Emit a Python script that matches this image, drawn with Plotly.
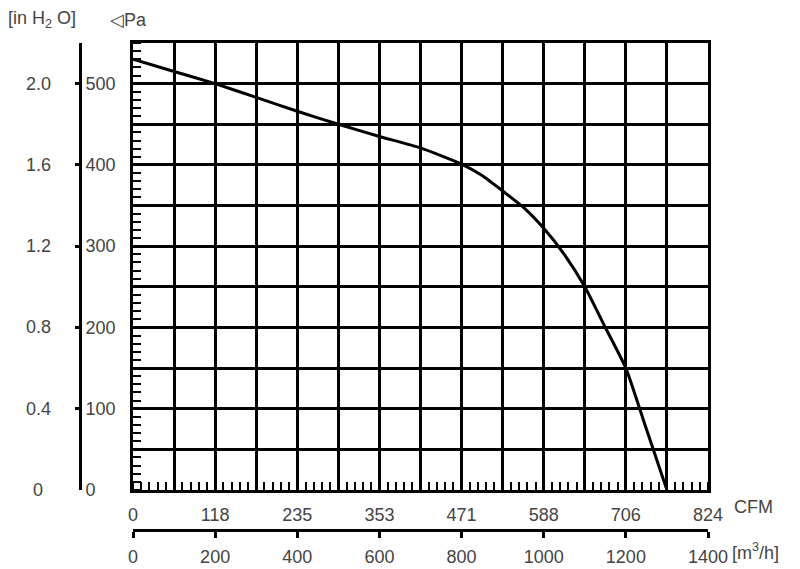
import plotly.graph_objects as go

# fan curve (air flow in m3/h, static pressure in Pa)
flow_m3h = [0, 100, 200, 300, 400, 500, 600, 700, 800, 850, 900, 950,
            1000, 1050, 1100, 1150, 1200, 1250, 1300]
pressure_pa = [530, 515, 500, 483, 466, 450, 435, 421, 401, 387, 368, 348,
               322, 290, 250, 200, 150, 75, 0]

# axis labels
m3h_ticks = [0, 200, 400, 600, 800, 1000, 1200, 1400]
cfm_labels = ["0", "118", "235", "353", "471", "588", "706", "824"]
pa_ticks = [0, 100, 200, 300, 400, 500]
inh2o_labels = ["0", "0.4", "0.8", "1.2", "1.6", "2.0"]

# the page body has an 8px margin, so the figure is drawn 8px smaller
# and every pixel position below is taken relative to it
OFF = 8
W, H = 800 - OFF, 569 - OFF
FONT = dict(family="Liberation Sans", size=18, color="#444")

grid_x = list(range(0, 1401, 100))
grid_x_text = [cfm_labels[m3h_ticks.index(v)] if v in m3h_ticks else "" for v in grid_x]

fig = go.Figure()
fig.add_trace(go.Scatter(x=flow_m3h, y=pressure_pa, mode="lines",
                         line=dict(color="black", width=3, shape="spline", smoothing=0.5),
                         showlegend=False, hoverinfo="skip"))
# dummy trace so the secondary axes get drawn
fig.add_trace(go.Scatter(x=[0, 1400], y=[0, 0], xaxis="x2", yaxis="y2", mode="lines",
                         line=dict(width=0), showlegend=False, hoverinfo="skip"))

# plot area (page pixels): x 133..708, y 43..490; second x axis at y 530
top = 43 - OFF
bottom = 530 - OFF
plot_b = H - bottom
plot_h = bottom - top
ydom0 = 40 / plot_h


def px_x(x):
    return (x - OFF) / W


def px_y(y):
    return (bottom - (y - OFF)) / plot_h


fig.update_layout(
    width=W, height=H,
    margin=dict(l=0, r=0, t=top, b=plot_b, autoexpand=False),
    plot_bgcolor="white", paper_bgcolor="white",
    font=FONT,
    xaxis=dict(domain=[px_x(133), px_x(708)], range=[0, 1400], anchor="y",
               tickvals=grid_x, ticktext=grid_x_text, ticks="",
               ticklabelstandoff=6, automargin=False,
               showgrid=True, gridcolor="black", gridwidth=3,
               showline=True, linecolor="black", linewidth=3, mirror=True,
               zeroline=False,
               minor=dict(ticks="inside", dtick=20, ticklen=8, tickwidth=2,
                          tickcolor="black", showgrid=False)),
    yaxis=dict(domain=[ydom0, 1], range=[0, 550], anchor="x",
               tickvals=list(range(0, 551, 50)), showticklabels=False, ticks="",
               automargin=False,
               showgrid=True, gridcolor="black", gridwidth=3,
               showline=True, linecolor="black", linewidth=3, mirror=True,
               zeroline=False,
               minor=dict(ticks="inside", dtick=10, ticklen=8, tickwidth=2,
                          tickcolor="black", showgrid=False)),
    xaxis2=dict(overlaying="x", anchor="free", position=0, range=[0, 1400],
                tickvals=m3h_ticks, ticks="outside", ticklen=6, tickwidth=3,
                tickcolor="black", showline=True, linecolor="black", linewidth=3,
                showgrid=False, zeroline=False, ticklabelstandoff=3,
                automargin=False),
    yaxis2=dict(overlaying="y", anchor="free", position=px_x(80), side="right",
                range=[0, 550], tickvals=pa_ticks, ticks="inside", ticklen=4,
                tickwidth=3, tickcolor="black", showline=True, linecolor="black",
                linewidth=3, showgrid=False, zeroline=False, automargin=False),
)

# in H2O labels, aligned with the Pa ticks
for v, t in zip(pa_ticks, inh2o_labels):
    fig.add_annotation(x=px_x(38), xref="paper", y=v, yref="y", text=t,
                       showarrow=False, xanchor="center", yanchor="middle")

fig.add_annotation(x=px_x(6), xref="paper", y=px_y(20), yref="paper",
                   text="[in H<sub>2</sub> O]", showarrow=False,
                   xanchor="left", yanchor="middle")
fig.add_annotation(x=px_x(108), xref="paper", y=px_y(20), yref="paper",
                   text="◁Pa", showarrow=False, xanchor="left", yanchor="middle")
fig.add_annotation(x=px_x(732), xref="paper", y=px_y(507), yref="paper",
                   text="CFM", showarrow=False, xanchor="left", yanchor="middle")
fig.add_annotation(x=px_x(730), xref="paper", y=px_y(551), yref="paper",
                   text="[m<sup>3</sup>/h]", showarrow=False,
                   xanchor="left", yanchor="middle")

fig.write_html("out.html")
